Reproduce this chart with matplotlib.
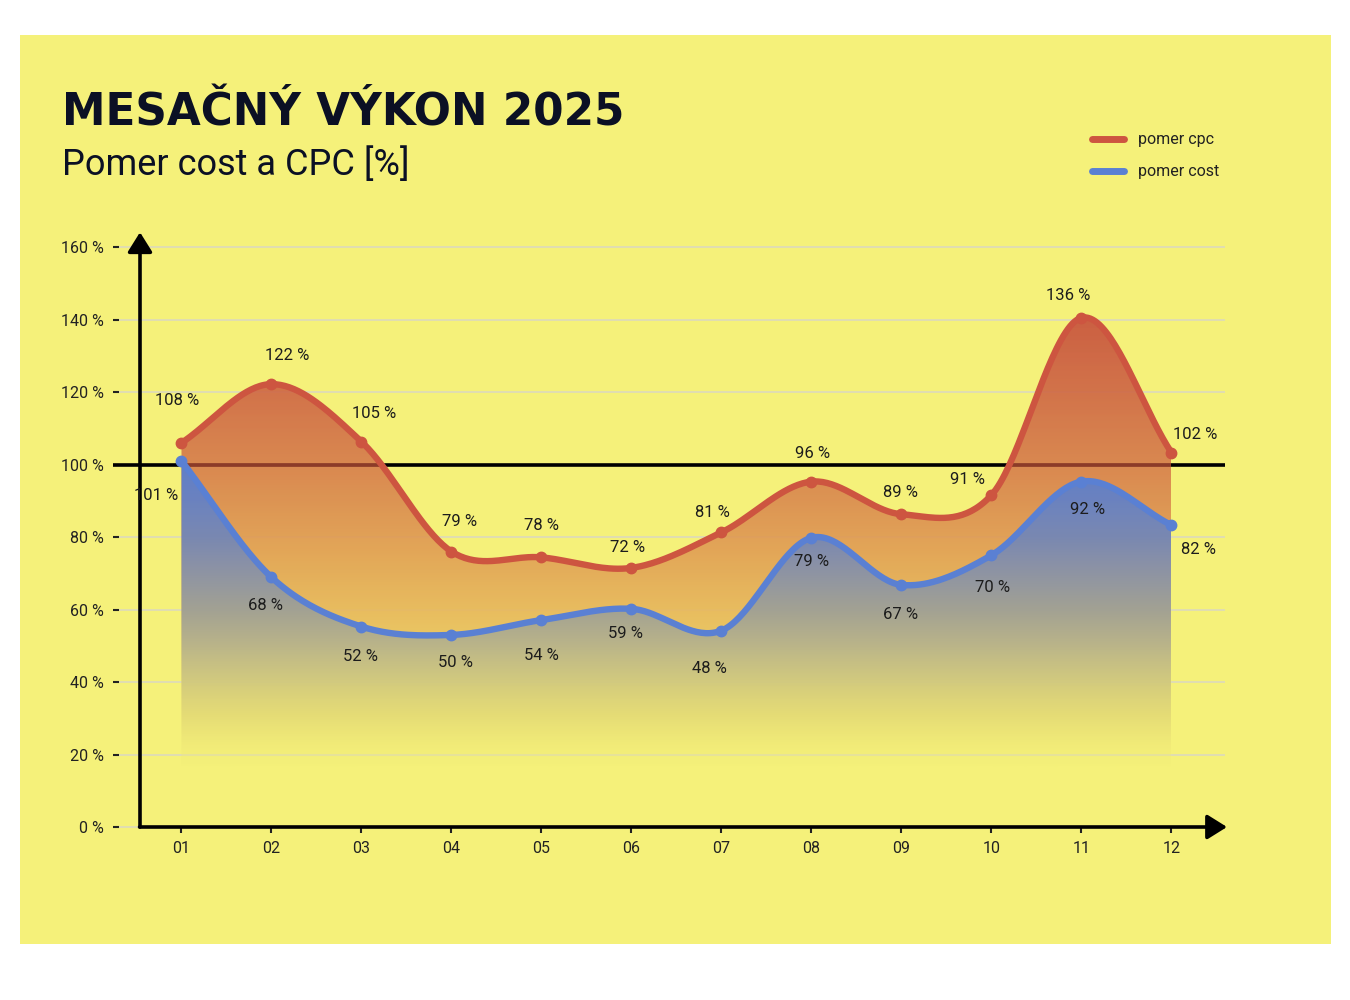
import numpy as np
import matplotlib
matplotlib.use("Agg")
import matplotlib.pyplot as plt
from matplotlib.patches import Rectangle, Polygon
from matplotlib.lines import Line2D

# data
months = ["01", "02", "03", "04", "05", "06", "07", "08", "09", "10", "11", "12"]
cpc = [106.0, 122.2, 106.3, 76.0, 74.4, 71.5, 81.3, 95.3, 86.3, 91.6, 140.5, 103.3]
cost = [101.0, 68.9, 55.3, 53.0, 57.1, 60.2, 54.2, 79.8, 66.8, 75.0, 95.3, 83.3]
cpc_labels = ["108 %", "122 %", "105 %", "79 %", "78 %", "72 %", "81 %", "96 %", "89 %", "91 %", "136 %", "102 %"]
cost_labels = ["101 %", "68 %", "52 %", "50 %", "54 %", "59 %", "48 %", "79 %", "67 %", "70 %", "92 %", "82 %"]
yticks = [0, 20, 40, 60, 80, 100, 120, 140, 160]

# label offsets in pixels (dx right, dy down) as placed in the reference
cpc_off = [(-4, -42), (16, -29), (13, -28), (8, -30), (0, -32), (-4, -20),
           (-9, -20), (1, -28), (-1, -22), (-24, -16), (-13, -22), (24, -18)]
cost_off = [(-25, 35), (-6, 28), (-1, 30), (4, 28), (0, 35), (-6, 25),
            (-12, 38), (0, 24), (-1, 30), (1, 32), (6, 28), (27, 24)]

BG = "#f5f17a"
RED = "#cd5540"
BLUE = "#5a80d3"
INK = "#0b1024"

plt.rcParams['font.family'] = ['Roboto', 'DejaVu Sans']


def smooth(y, n=40):
    # catmull-rom spline through the points
    y = np.asarray(y, float)
    p = np.concatenate([[2 * y[0] - y[1]], y, [2 * y[-1] - y[-2]]])
    xs, ys = [], []
    t = np.linspace(0, 1, n, endpoint=False)
    h00 = 2 * t**3 - 3 * t**2 + 1
    h10 = t**3 - 2 * t**2 + t
    h01 = -2 * t**3 + 3 * t**2
    h11 = t**3 - t**2
    for i in range(len(y) - 1):
        m1 = (p[i + 2] - p[i]) / 2
        m2 = (p[i + 3] - p[i + 1]) / 2
        ys.append(h00 * p[i + 1] + h10 * m1 + h01 * p[i + 2] + h11 * m2)
        xs.append(i + t)
    xs.append([len(y) - 1])
    ys.append([y[-1]])
    return np.concatenate(xs), np.concatenate(ys)


def hex2rgb(h):
    return [int(h[i:i + 2], 16) / 255 for i in (1, 3, 5)]


def gradient(stops, lo, hi, n=300):
    v = np.linspace(lo, hi, n)
    sv = [s[0] for s in stops]
    rgba = np.zeros((n, 1, 4))
    cols = [hex2rgb(s[1]) + [s[2]] for s in stops]
    for c in range(4):
        rgba[:, 0, c] = np.interp(v, sv, [col[c] for col in cols])
    return rgba


fig = plt.figure(figsize=(13.5, 10), dpi=100)
fig.patch.set_facecolor("white")
fig.add_artist(Rectangle((20 / 1350, 1 - 944 / 1000), 1311 / 1350, 909 / 1000,
                         transform=fig.transFigure, facecolor=BG, edgecolor="none", zorder=0))

ax = fig.add_axes([140 / 1350, 173 / 1000, 1087 / 1350, 598 / 1000])
ax.set_facecolor("none")
x = np.arange(len(months))
xl, xr = -0.461, 11.617

for s in ["top", "right", "bottom"]:
    ax.spines[s].set_visible(False)
ax.spines["left"].set_position(("outward", 19.4))
ax.spines["left"].set_visible(False)

ax.set_yticks(yticks)
ax.set_yticklabels([f"{v} %" for v in yticks])
ax.tick_params(axis="y", direction="in", length=4, width=1.5, pad=6.5,
               labelsize=11.5, colors="#222222")
ax.set_xticks(x)
ax.set_xticklabels(months)
ax.tick_params(axis="x", direction="out", length=4, width=1.5, pad=6,
               labelsize=11.5, colors="#222222")

# grid
ax.hlines(yticks, -0.761, 11.59, color="#dcd9bc", lw=1.2, zorder=1, clip_on=False)
ax.hlines(100, -0.761, 11.59, color="black", lw=2.6, zorder=2, clip_on=False)

bottom = 16.5
xs, ys_cpc = smooth(cpc)
_, ys_cost = smooth(cost)

red_stops = [(16.5, BG, 0.12), (30, "#efdc6c", 0.55), (45, "#ecca63", 0.85),
             (60, "#e7b65c", 0.9), (80, "#df9853", 0.9), (100, "#d67c4c", 0.9),
             (120, "#cf6846", 0.92), (145, "#c8533e", 0.95)]
blue_stops = [(16.5, BG, 0.12), (30, "#dfd979", 0.6), (40, "#cdc882", 0.85),
              (50, "#b6b38d", 0.92), (60, "#9ea097", 0.95), (70, "#8a93a8", 0.95),
              (80, "#7487b7", 0.95), (90, "#6582c6", 0.95), (100, "#5a7fcf", 0.95)]

polys = []
for ysm, stops, z in [(ys_cpc, red_stops, 3), (ys_cost, blue_stops, 4)]:
    verts = np.column_stack([np.concatenate([xs, [xs[-1], xs[0]]]),
                             np.concatenate([ysm, [bottom, bottom]])])
    poly = Polygon(verts, closed=True, facecolor="none", edgecolor="none",
                   transform=ax.transData)
    ax.add_patch(poly)
    polys.append(poly)
    im = ax.imshow(gradient(stops, bottom, 145), extent=[0, len(months) - 1, bottom, 145],
                   origin="lower", aspect="auto", zorder=z, interpolation="bilinear")
    im.set_clip_path(poly)

# 100 % line showing through the red area
ln = ax.hlines(100, 0, len(months) - 1, color="#8c3b28", lw=2.6, zorder=3.5)
ln.set_clip_path(polys[0])

ax.set_xlim(xl, xr)
ax.set_ylim(0, 165)

ax.plot(xs, ys_cpc, color=RED, lw=4.6, solid_capstyle="round", zorder=6)
ax.plot(xs, ys_cost, color=BLUE, lw=4.6, solid_capstyle="round", zorder=6)
ax.plot(x, cpc, "o", color=RED, ms=7.5, zorder=7)
ax.plot(x, cost, "o", color=BLUE, ms=7.5, zorder=7)

for i in range(len(months)):
    dx, dy = cpc_off[i]
    ax.annotate(cpc_labels[i], (x[i], cpc[i]), xytext=(dx * 0.72, -dy * 0.72),
                textcoords="offset points", ha="center", va="center",
                fontsize=12, color="#1c1c1c", zorder=9)
    dx, dy = cost_off[i]
    ax.annotate(cost_labels[i], (x[i], cost[i]), xytext=(dx * 0.72, -dy * 0.72),
                textcoords="offset points", ha="center", va="center",
                fontsize=12, color="#1c1c1c", zorder=9)

# axes with arrows
arrow = dict(arrowstyle="-|>,head_length=0.4,head_width=0.25", lw=2.6, color="black",
             mutation_scale=30, shrinkA=0, shrinkB=0)
ax.annotate("", xy=(xl, 164.1), xytext=(xl, 0), arrowprops=arrow,
            annotation_clip=False, zorder=8)
ax.annotate("", xy=(xr, 0), xytext=(xl - 0.005, 0), arrowprops=arrow,
            annotation_clip=False, zorder=8)

# legend
handles = [Line2D([], [], color=RED, lw=5, solid_capstyle="round"),
           Line2D([], [], color=BLUE, lw=5, solid_capstyle="round")]
fig.legend(handles, ["pomer cpc", "pomer cost"], loc="upper left",
           bbox_to_anchor=(1078 / 1350, 1 - 118 / 1000), frameon=False,
           fontsize=11.5, handlelength=2.0, handletextpad=0.85, labelspacing=1.05,
           labelcolor="#222222")

fig.text(62 / 1350, 1 - 125 / 1000, "MESAČNÝ VÝKON 2025", fontsize=31.5,
         fontweight="bold", color=INK, va="baseline", ha="left",
         family=["DejaVu Sans"])
fig.text(62 / 1350, 1 - 175 / 1000, "Pomer cost a CPC [%]", fontsize=26,
         color=INK, va="baseline", ha="left")

fig.savefig("out.png", dpi=100, facecolor="white")
